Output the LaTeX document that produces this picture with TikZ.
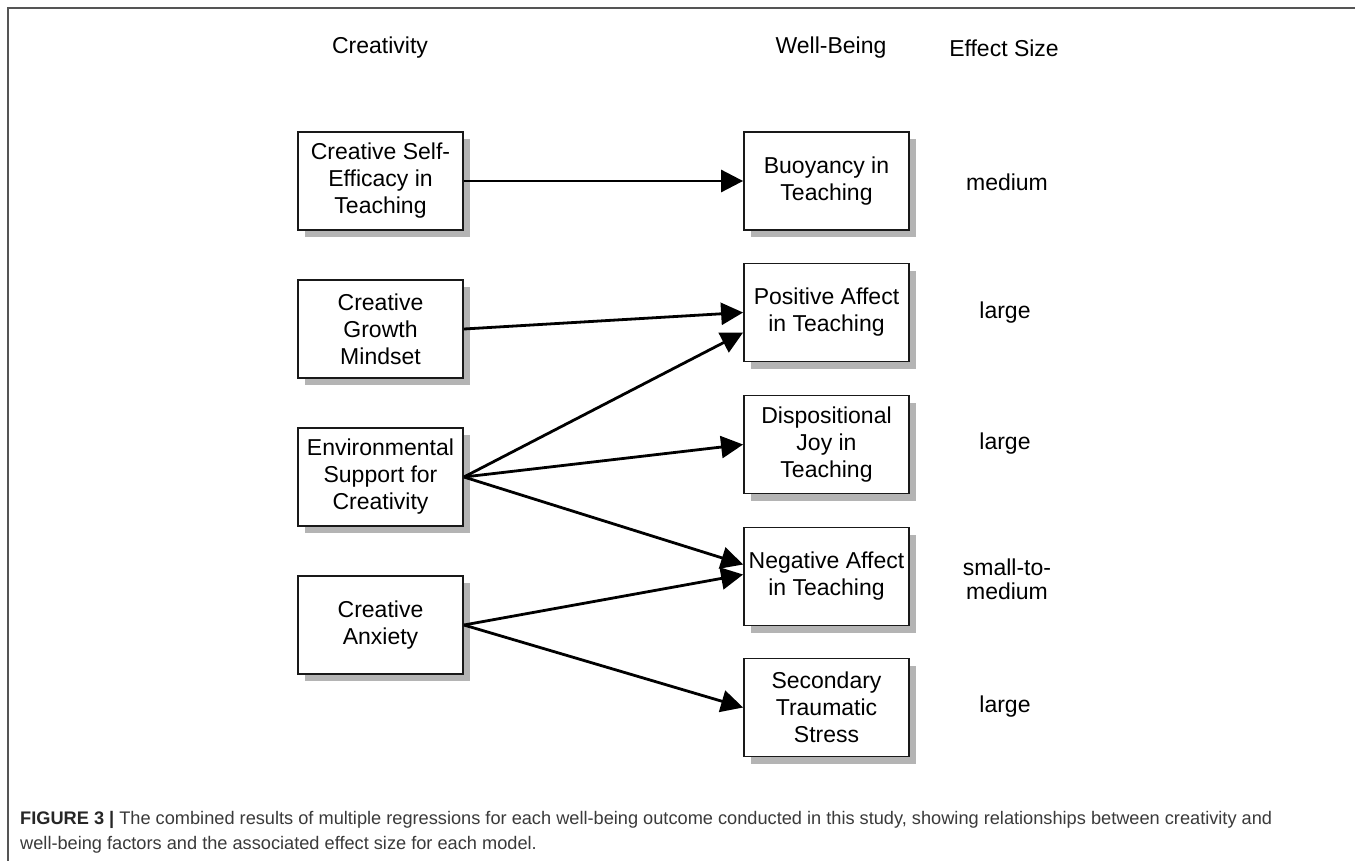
\documentclass[tikz,border=0pt]{standalone}
\usepackage{fontspec}
\setmainfont{Liberation Sans}
\usetikzlibrary{arrows.meta,shadows,calc}
\definecolor{framegray}{HTML}{555555}
\definecolor{shadowgray}{HTML}{B4B4B4}
\definecolor{captext}{HTML}{3A3A3A}
\tikzset{
  varbox/.style={draw=black!90, line width=1.8pt, fill=white, minimum width=165pt, minimum height=98pt,
    align=center, inner sep=2pt, font=\fontsize{23}{27}\selectfont,
    drop shadow={shadow xshift=7pt, shadow yshift=-7pt, fill=shadowgray, opacity=1}},
  hdr/.style={font=\fontsize{23}{27}\selectfont, inner sep=0pt},
  eff/.style={font=\fontsize{23}{24}\selectfont, align=center, inner sep=0pt},
  link/.style={line width=2.8pt, -{Triangle[length=22pt,width=22pt]}},
  captionline/.style={font=\fontsize{18.2}{20}\selectfont, color=captext, anchor=base west, inner sep=0pt}
}
\begin{document}
\begin{tikzpicture}[x=1pt,y=-1pt]
\useasboundingbox (0,0) rectangle (1355,860);
\fill[white] (0,0) rectangle (1355,860);
\draw[framegray, line width=1.5pt] (8,870) -- (8,8) -- (1365,8);

% headers
\node[hdr] (hc) at (380,48) {Creativity};
\node[hdr] (hw) at (831,48) {Well-Being};
\node[hdr] (he) at (1004,48) {Effect Size};

% creativity boxes
\node[varbox] (cse) at (380.5,181) {Creative Self-\\Efficacy in\\Teaching};
\node[varbox] (cgm) at (380.5,329) {Creative\\Growth\\Mindset};
\node[varbox] (esc) at (380.5,477) {Environmental\\Support for\\Creativity};
\node[varbox] (ca)  at (380.5,625) {Creative\\Anxiety};

% well-being boxes
\node[varbox] (bt) at (826.5,181) {Buoyancy in\\Teaching};
\node[varbox] (pa) at (826.5,312.5) {Positive Affect\\in Teaching};
\node[varbox] (dj) at (826.5,444.5) {Dispositional\\Joy in\\Teaching};
\node[varbox] (na) at (826.5,576.5) {Negative Affect\\in Teaching};
\node[varbox] (st) at (826.5,707.5) {Secondary\\Traumatic\\Stress};

% effect sizes
\node[eff] (e1) at (1007,182) {medium};
\node[eff] (e2) at (1005,313) {large};
\node[eff] (e3) at (1005,444) {large};
\node[eff] (e4) at (1007,579) {small-to-\\medium};
\node[eff] (e5) at (1005,707) {large};

% connectors
\draw[link] (cse.east) -- (bt.west);
\draw[link] (cgm.east) -- (pa.west);
\draw[link] (esc.east) -- ($(pa.west)+(0,20)$);
\draw[link] (esc.east) -- (dj.west);
\draw[link] (esc.east) -- ($(na.west)+(0,-12)$);
\draw[link] (ca.east) -- ($(na.west)+(0,-2)$);
\draw[link] (ca.east) -- (st.west);

% caption
\node[captionline] (cap1) at (20,824) {\textbf{\color{black!85}FIGURE 3 |} The combined results of multiple regressions for each well-being outcome conducted in this study, showing relationships between creativity and};
\node[captionline] (cap2) at (20,849) {well-being factors and the associated effect size for each model.};
\end{tikzpicture}
\end{document}
